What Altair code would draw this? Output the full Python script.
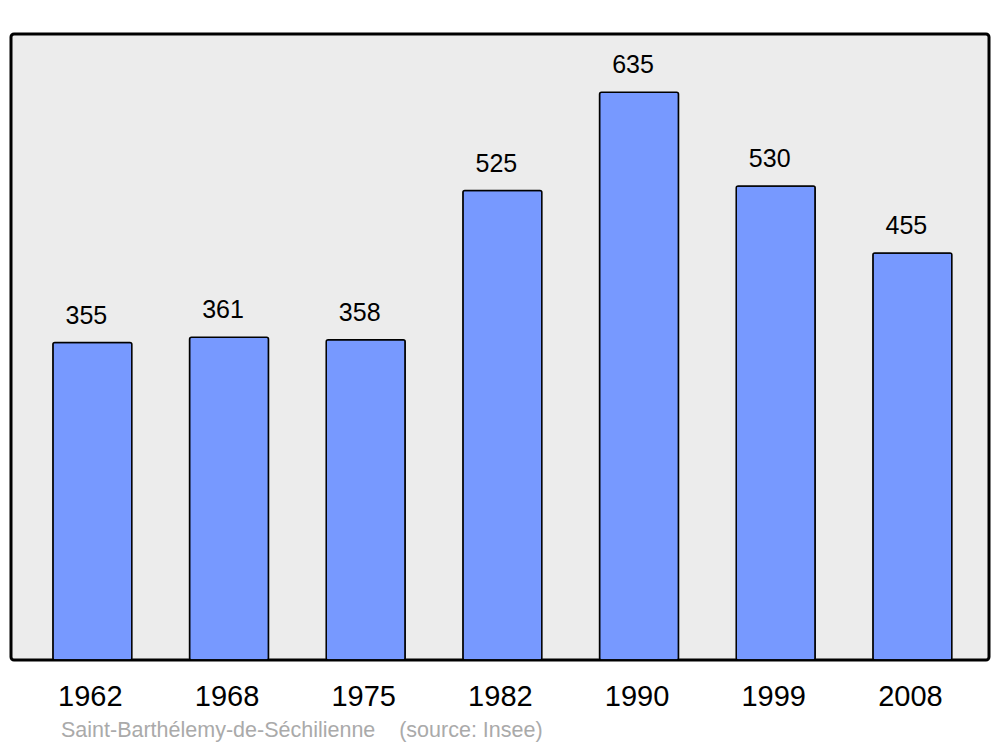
import altair as alt
import pandas as pd

years = ["1962", "1968", "1975", "1982", "1990", "1999", "2008"]
population = [355, 361, 358, 525, 635, 530, 455]
caption = "Saint-Barthélemy-de-Séchilienne\u00a0\u00a0\u00a0\u00a0(source: Insee)"

df = pd.DataFrame({"year": years, "pop": population})

FONT = "Liberation Sans"

x = alt.X("year:N", sort=years, title=None,
          scale=alt.Scale(paddingInner=0.422, paddingOuter=0.289, align=0.53),
          axis=alt.Axis(labelAngle=0, labelFontSize=29, labelFont=FONT, labelColor="black",
                        labelOffset=-2,
                        domain=False, ticks=False, tickSize=0, labelPadding=22, grid=False))
y = alt.Y("pop:Q", title=None, scale=alt.Scale(domain=[0, 700], nice=False, zero=True),
          axis=None)

base = alt.Chart(df)
bars = base.mark_bar(color="#7799ff", stroke="black", strokeWidth=1.5, cornerRadius=2).encode(x=x, y=y)
labels = base.mark_text(baseline="alphabetic", dy=-19, dx=-6, fontSize=25, font=FONT, color="black").encode(
    x=x, y=y, text="pop:Q")

cap = alt.Chart(pd.DataFrame({"t": [caption]})).mark_text(
    align="left", baseline="alphabetic", fontSize=21.5, font=FONT, color="#aaaaaa"
).encode(text="t:N", x=alt.value(50), y=alt.value(703))

chart = alt.layer(bars, labels, cap).properties(
    width=978, height=626,
    autosize=alt.AutoSizeParams(type="none"),
    padding={"left": 3, "top": 26, "right": 3, "bottom": 87},
    background="white",
).configure_view(
    fill="#ececec", stroke="black", strokeWidth=3, cornerRadius=3
)

chart.save("out.html", embed_options={"renderer": "svg", "actions": False})
